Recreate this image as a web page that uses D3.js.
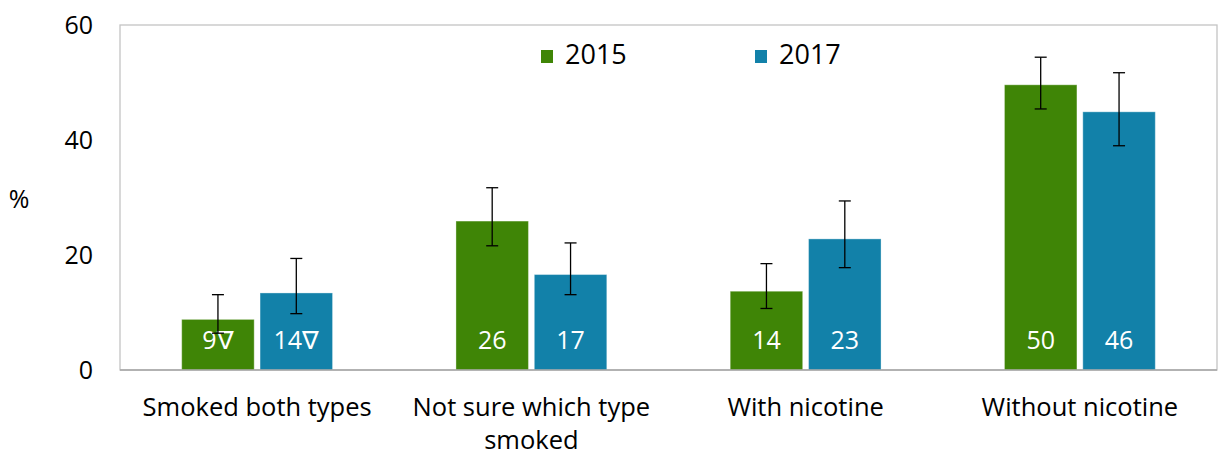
<!DOCTYPE html>
<html><head><meta charset="utf-8">
<script src="https://cdn.jsdelivr.net/npm/d3@7"></script>
<style>body{margin:0;background:#fff;}svg{display:block;font-family:"Open Sans","Noto Sans",sans-serif;}</style>
</head><body><svg id="c" width="1225" height="457"></svg>
<script>
const categories = [["Smoked both types"], ["Not sure which type", "smoked"], ["With nicotine"], ["Without nicotine"]];
const seriesNames = ["2015", "2017"];
const values2015 = [8.8, 25.9, 13.7, 49.6];
const values2017 = [13.4, 16.6, 22.8, 44.9];
const labels2015 = ["9∇", "26", "14", "50"];
const labels2017 = ["14∇", "17", "23", "46"];
const errLow2015 = [6.4, 21.6, 10.7, 45.4];
const errHigh2015 = [13.1, 31.7, 18.5, 54.4];
const errLow2017 = [9.8, 13.1, 17.8, 39.0];
const errHigh2017 = [19.4, 22.1, 29.4, 51.7];
const yTicks = [0, 20, 40, 60];
const colors = ["#3F8506", "#1281A9"];

const svg = d3.select("#c");
const L = 120, R = 1217, T = 25, B = 370;
const x0 = d3.scaleBand().domain(d3.range(categories.length)).range([L, R]).paddingInner(0.45).paddingOuter(0.225);
const x1 = d3.scaleBand().domain([0, 1]).range([0, x0.bandwidth()]).paddingInner(0.075);
const y = d3.scaleLinear().domain([0, 60]).range([B, T]);

svg.append("rect").attr("x", L).attr("y", T).attr("width", R - L).attr("height", B - T)
  .attr("fill", "none").attr("stroke", "#c4c4c4").attr("stroke-width", 1.3);

const yAxis = d3.axisLeft(y).tickValues(yTicks).tickSize(0).tickPadding(27);
const gy = svg.append("g").attr("transform", `translate(${L},0)`).call(yAxis);
gy.select(".domain").remove();
gy.attr("font-size", null).attr("font-family", null);
gy.selectAll("text").attr("font-size", 25).attr("fill", "#000");

svg.append("text").attr("x", 19).attr("y", 201).attr("text-anchor", "middle").attr("dominant-baseline", "middle")
  .attr("font-size", 25).text("%");

const series = [
  {vals: values2015, labs: labels2015, lo: errLow2015, hi: errHigh2015},
  {vals: values2017, labs: labels2017, lo: errLow2017, hi: errHigh2017}
];

series.forEach((s, si) => {
  const g = svg.append("g");
  s.vals.forEach((v, i) => {
    const bx = x0(i) + x1(si);
    g.append("rect").attr("x", bx).attr("y", y(v)).attr("width", x1.bandwidth()).attr("height", y(0) - y(v))
      .attr("fill", colors[si]).attr("stroke", "#ffffff").attr("stroke-opacity", 0.35).attr("stroke-width", 1);
    g.append("text").attr("x", bx + x1.bandwidth() / 2).attr("y", 342).attr("text-anchor", "middle")
      .attr("dominant-baseline", "middle").attr("fill", "#fff").attr("font-size", 25).text(s.labs[i]);
    const cx = bx + x1.bandwidth() / 2;
    g.append("line").attr("x1", cx).attr("x2", cx).attr("y1", y(s.hi[i])).attr("y2", y(s.lo[i])).attr("stroke", "#000").attr("stroke-width", 1.3);
    [s.hi[i], s.lo[i]].forEach(e => {
      g.append("line").attr("x1", cx - 6).attr("x2", cx + 6).attr("y1", y(e)).attr("y2", y(e)).attr("stroke", "#000").attr("stroke-width", 1.3);
    });
  });
});

svg.append("line").attr("x1", L).attr("x2", R).attr("y1", B).attr("y2", B).attr("stroke", "#a6a6a6").attr("stroke-width", 1.5);

categories.forEach((lines, i) => {
  const t = svg.append("text").attr("x", x0(i) + x0.bandwidth() / 2).attr("y", 416).attr("text-anchor", "middle")
    .attr("font-size", 25.5).attr("fill", "#000");
  lines.forEach((ln, k) => t.append("tspan").attr("x", x0(i) + x0.bandwidth() / 2).attr("dy", k === 0 ? 0 : 33).text(ln));
});

const legX = [541, 755];
seriesNames.forEach((n, i) => {
  svg.append("rect").attr("x", legX[i]).attr("y", 50).attr("width", 12).attr("height", 13).attr("fill", colors[i]);
  svg.append("text").attr("x", legX[i] + 24).attr("y", 57).attr("dominant-baseline", "middle").attr("font-size", 27).text(n);
});
</script></body></html>
